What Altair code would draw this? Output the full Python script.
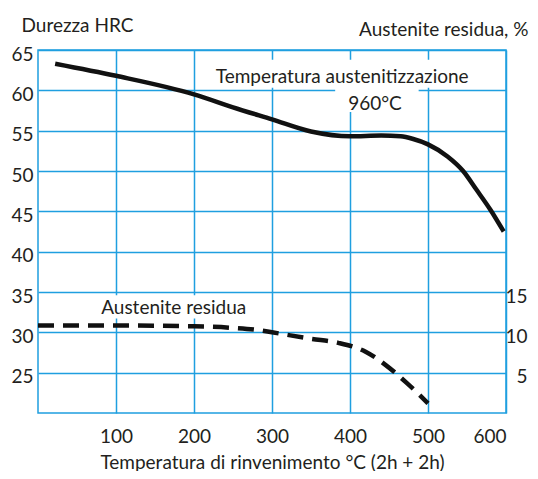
import altair as alt
import pandas as pd

# Hardness curve (HRC) vs tempering temperature
temp_h = [22, 100, 200, 250, 300, 350, 400, 440, 465, 480, 500, 525, 545, 562, 580, 597]
hrc = [63.3, 61.8, 59.5, 57.9, 56.4, 54.9, 54.3, 54.4, 54.3, 54.0, 53.3, 51.8, 50.0, 47.7, 45.2, 42.5]

# Retained austenite (%) vs tempering temperature
temp_a = [0, 100, 200, 250, 280, 300, 350, 385, 420, 445, 473, 500]
aust = [10.85, 10.85, 10.75, 10.55, 10.3, 10.0, 9.2, 8.7, 7.6, 6.0, 3.7, 1.2]

# Annotations
note_text = ["Temperatura austenitizzazione", "960°C", "Austenite residua"]
note_x = [390, 432, 174]
note_y = [60.95, 57.6, 32.3]
box_x = [214, 381, 73]
box_x2 = [560, 488, 278]
box_y = [63.8, 60.45, 34.6]
box_y2 = [60.33, 57.3, 31.7]

x_ticks = [100, 200, 300, 400, 500, 600]
y_ticks = [25, 30, 35, 40, 45, 50, 55, 60, 65]
r_ticks = [5, 10, 15]

FONT = "Lato"
FS = 19
TXT = "#231f20"
GRID = "#1f9fe0"

df_h = pd.DataFrame({"T": temp_h, "HRC": hrc})
df_a = pd.DataFrame({"T": temp_a, "A": aust})
df_n = pd.DataFrame({"label": note_text, "x": note_x, "y": note_y,
                     "bx": box_x, "bx2": box_x2, "by": box_y, "by2": box_y2})

xscale = alt.Scale(domain=[0, 600], nice=False, zero=False)
yscale = alt.Scale(domain=[20, 65], nice=False, zero=False)

xaxis = alt.Axis(values=x_ticks, title="Temperatura di rinvenimento °C (2h + 2h)",
                 grid=True, gridColor=GRID, gridWidth=1.5, domain=False, ticks=False,
                 labelFont=FONT, labelFontSize=FS, labelColor=TXT, labelPadding=14,
                 titleFont=FONT, titleFontSize=FS, titleFontWeight="normal", titleColor=TXT,
                 titleBaseline="alphabetic", titleY=55)

yaxis = alt.Axis(values=y_ticks, title="Durezza HRC", grid=True, gridColor=GRID, gridWidth=1.5,
                 domain=False, ticks=False, labelFont=FONT, labelFontSize=FS, labelColor=TXT,
                 labelPadding=5, labelOffset=4, labelBaseline="middle",
                 titleFont=FONT, titleFontSize=FS, titleFontWeight="normal", titleColor=TXT,
                 titleAngle=0, titleAlign="left", titleBaseline="alphabetic",
                 titleX=-17, titleY=-19)

boxes = alt.Chart(df_n).mark_rect(color="white").encode(
    x=alt.X("bx:Q", scale=xscale, axis=xaxis),
    x2="bx2:Q",
    y=alt.Y("by:Q", scale=yscale, axis=yaxis),
    y2="by2:Q",
)

notes = alt.Chart(df_n).mark_text(font=FONT, fontSize=FS, color=TXT, align="center",
                                   baseline="alphabetic").encode(
    x=alt.X("x:Q", scale=xscale),
    y=alt.Y("y:Q", scale=yscale),
    text="label:N",
)

hard = alt.Chart(df_h).mark_line(color="#111111", strokeWidth=4.5, interpolate="monotone",
                                  strokeCap="butt").encode(
    x=alt.X("T:Q", scale=xscale),
    y=alt.Y("HRC:Q", scale=yscale),
)

left = alt.layer(boxes, notes, hard)

raxis = alt.Axis(values=r_ticks, orient="right", title="Austenite residua, %", grid=False,
                 domain=False, ticks=False, labelFont=FONT, labelFontSize=FS, labelColor=TXT,
                 labelAlign="right", labelPadding=21, labelOffset=4, labelBaseline="middle",
                 titleFont=FONT, titleFontSize=FS, titleFontWeight="normal", titleColor=TXT,
                 titleAngle=0, titleAlign="right", titleBaseline="alphabetic",
                 titleX=22, titleY=-15)

austl = alt.Chart(df_a).mark_line(color="#111111", strokeWidth=4.5, strokeDash=[16, 9],
                                   interpolate="monotone", strokeCap="butt").encode(
    x=alt.X("T:Q", scale=xscale),
    y=alt.Y("A:Q", scale=alt.Scale(domain=[0, 45], nice=False, zero=False), axis=raxis),
)

chart = alt.layer(left, austl).resolve_scale(y="independent").properties(
    width=468, height=363,
    autosize=alt.AutoSizeParams(type="none"),
    padding={"left": 30, "top": 42, "right": 24, "bottom": 58},
    background="white",
).configure_view(stroke=GRID, strokeWidth=1.5)

chart.save("out.html", embed_options={"renderer": "svg", "actions": False})
